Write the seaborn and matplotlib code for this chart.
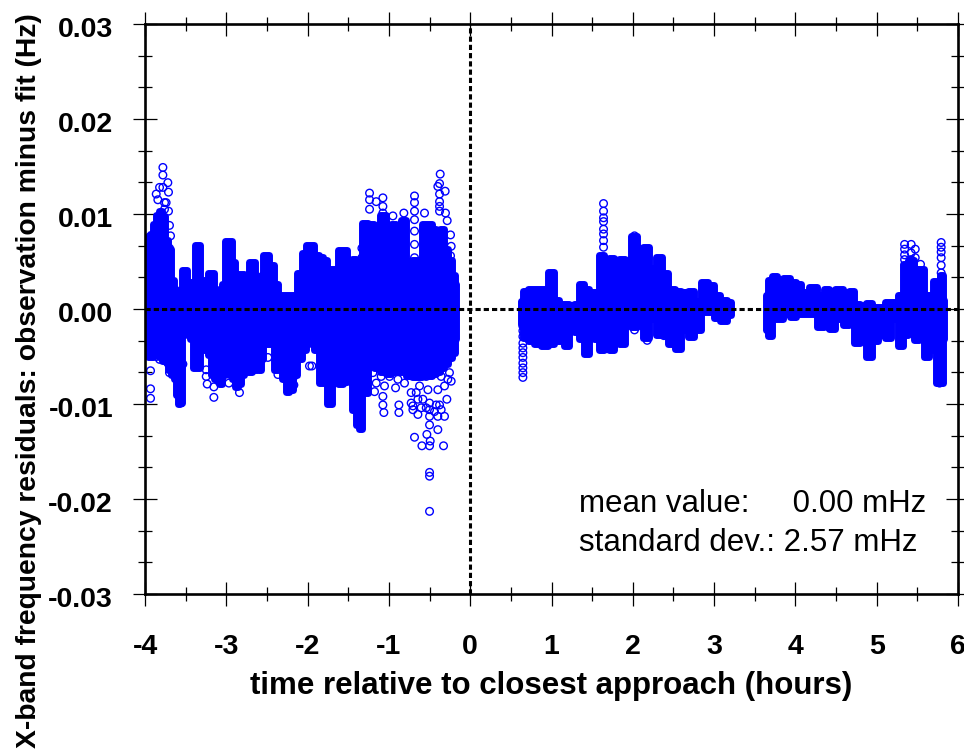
import matplotlib
matplotlib.use("Agg")
import matplotlib.pyplot as plt
from matplotlib.ticker import MultipleLocator, FormatStrFormatter
from matplotlib.transforms import ScaledTranslation
import pandas as pd
import seaborn as sns

# Envelope of the dense point columns (hours, Hz)
t_before = [-3.973, -3.948, -3.924, -3.887, -3.850, -3.813, -3.776, -3.739, -3.702, -3.665, -3.629, -3.604,
            -3.579, -3.555, -3.536, -3.506, -3.469, -3.432, -3.395, -3.370, -3.346, -3.309, -3.247, -3.198,
            -3.173, -3.137, -3.100, -3.075, -3.038, -2.989, -2.952, -2.915, -2.878, -2.841, -2.804, -2.768,
            -2.731, -2.706, -2.669, -2.632, -2.595, -2.558, -2.534, -2.497, -2.448, -2.386, -2.349, -2.288,
            -2.251, -2.202, -2.165, -2.103, -2.042, -2.005, -1.956, -1.894, -1.833, -1.784, -1.734, -1.673,
            -1.587, -1.550, -1.488, -1.427, -1.390, -1.353, -1.304, -1.218, -1.156, -1.070, -1.009, -0.947,
            -0.886, -0.824, -0.750, -0.689, -0.627, -0.566, -0.504, -0.443, -0.394, -0.344, -0.295, -0.246,
            -0.197, -0.175]
up_before = [.0063, .0077, .0079, .0089, .0099, .0103, .0098, .0073, .0063, .0031, .0021, .0017,
             .0005, .0010, .0041, .0041, .0028, .0028, .0026, .0067, .0067, .0031, .0028, .0038,
             .0038, .0010, .0015, .0021, .0026, .0072, .0072, .0050, .0031, .0037, .0037, .0026,
             .0026, .0050, .0050, .0026, .0031, .0036, .0057, .0057, .0046, .0026, .0015, .0015,
             .0015, .0015, .0015, .0038, .0059, .0067, .0067, .0057, .0055, .0052, .0042, .0042,
             .0062, .0062, .0046, .0053, .0044, .0035, .0091, .0089, .0078, .0099, .0073, .0089,
             .0073, .0094, .0047, .0052, .0047, .0089, .0089, .0084, .0078, .0084, .0063, .0052,
             .0036, .0026]
low_before = [-.0043, -.0051, -.0051, -.0048, -.0048, -.0051, -.0055, -.0043, -.0064, -.0069, -.0074, -.0090,
              -.0100, -.0099, -.0016, -.0016, -.0027, -.0032, -.0062, -.0062, -.0062, -.0037, -.0043, -.0048,
              -.0069, -.0074, -.0076, -.0079, -.0069, -.0066, -.0069, -.0074, -.0082, -.0079, -.0069, -.0048,
              -.0066, -.0066, -.0064, -.0043, -.0064, -.0053, -.0032, -.0037, -.0037, -.0064, -.0062, -.0074,
              -.0087, -.0085, -.0069, -.0053, -.0043, -.0037, -.0029, -.0043, -.0078, -.0078, -.0100, -.0053,
              -.0079, -.0077, -.0053, -.0106, -.0122, -.0126, -.0088, -.0058, -.0062, -.0066, -.0068, -.0066,
              -.0066, -.0066, -.0070, -.0072, -.0072, -.0070, -.0070, -.0068, -.0066, -.0062, -.0058, -.0052,
              -.0046, -.0032]

t_after1 = [.627, .664, .750, .824, .923, .996, 1.058, 1.119, 1.181, 1.242, 1.304, 1.365, 1.427, 1.488, 1.550,
            1.611, 1.673, 1.734, 1.796, 1.870, 1.931, 2.017, 2.091, 2.165, 2.239, 2.325, 2.399, 2.472, 2.558,
            2.632, 2.718, 2.792, 2.878, 2.964, 3.026, 3.112, 3.210]
up_after1 = [.0008, .0019, .0021, .0021, .0021, .0039, .0010, .0005, .0005, .0003, .0005, .0026, .0021, .0018, .0018,
             .0057, .0042, .0054, .0047, .0053, .0039, .0077, .0056, .0065, .0043, .0055, .0038, .0021, .0019,
             .0018, .0019, .0008, .0028, .0025, .0015, .0010, .0007]
low_after1 = [-.0016, -.0030, -.0034, -.0037, -.0039, -.0037, -.0034, -.0034, -.0039, -.0022, -.0024, -.0032, -.0047,
              -.0022, -.0032, -.0043, -.0037, -.0043, -.0027, -.0037, -.0011, -.0019, -.0006, -.0031, -.0011, -.0027,
              -.0027, -.0037, -.0042, -.0022, -.0029, -.0022, -.0003, -.0003, -.0009, -.0013, -.0006]

t_after2 = [3.641, 3.690, 3.739, 3.813, 3.887, 3.973, 4.034, 4.108, 4.219, 4.317, 4.391, 4.440, 4.539, 4.637, 4.686,
            4.748, 4.834, 4.908, 4.969, 5.055, 5.142, 5.215, 5.301, 5.338, 5.424, 5.486, 5.547, 5.609, 5.670, 5.707,
            5.756, 5.793, 5.830]
up_after2 = [.0015, .0031, .0035, .0028, .0033, .0028, .0026, .0018, .0023, .0015, .0021, .0015, .0021, .0018, .0019,
             .0005, .0002, .0006, .0002, .0002, .0007, .0007, .0015, .0047, .0052, .0042, .0042, .0015, .0015, .0029,
             .0028, .0036, .0010]
low_after2 = [-.0022, -.0028, -.0011, -.0011, -.0005, -.0008, -.0005, -.0005, -.0005, -.0019, -.0013, -.0021, -.0011,
              -.0017, -.0016, -.0036, -.0011, -.0050, -.0034, -.0027, -.0030, -.0011, -.0039, -.0027, -.0011, -.0033,
              -.0011, -.0051, -.0043, -.0041, -.0078, -.0078, -.0032]

# Separate open circles that stand clear of the columns
ring_t = [-3.780, -3.780, -3.719, -3.711, -3.821, -3.780, -3.862, -3.842, -3.760, -3.711, -3.699, -3.686, -3.699, -3.699,
          -3.932, -3.932, -3.932, -3.534, -3.235, -3.153, -3.153, -2.968, -2.838, -2.488, -2.365, -2.169, -2.169, -1.977,
          -.369, -.377, -.398, -.308, -.377, -.377, -.377, -.377, -.304, -.283, -.242, -.234, -.242,
          -1.238, -1.238, -1.238, -1.156, -1.074, -1.074, -1.074, -.951, -.951, -.972, -.816, -.816,
          -.685, -.685, -.685, -.685, -.685, -.685, -.685, -1.332, -1.332, -.562,
          -1.074, -1.074, -1.062, -.877, -.877, -.918, -1.177, -.685, -.594, -.533, -.500, -.492, -.500, -.398, -.328,
          -.500, -.500, -.500, -.398, -.377, -.398, -.316, -.287, -.439, -.643, -.705, -1.947, -.500,
          -1.197, -1.156, -1.095, -1.054, -.992, -.889, -.808, -.726, -.726, -.664, -.623, -.582, -.541, -.520, -.500,
          -.357, -.316, -.255, -.234, -.275, -.705, -.603, -.541, -.500, -.418, -.357, -.643,
          -3.821, -3.862, -3.719, -3.719, -3.699, -3.247, -3.247, -3.760, -3.740,
          1.640, 1.640, 1.640, 1.640, 1.640, 1.640, 1.640, 1.640, 2.021, 2.021, 2.021,
          .648, .648, .648, .648, .648, .648, .648, .648, .648, .648, .648,
          2.177, 2.021, 1.960, 2.382,
          5.343, 5.343, 5.343, 5.343, 5.424, 5.424, 5.424, 5.474, 5.474, 5.539, 5.539,
          5.793, 5.793, 5.793, 5.793, 5.793, 5.793, 5.793, 5.793, 5.793, 5.773, 5.773, 5.773]
ring_y = [.0149, .0141, .0133, .0123, .0128, .0128, .0121, .0115, .0112, .0103, .0088, .0077, .0064, .0052,
          -.0065, -.0084, -.0094, -.0058, -.0079, -.0082, -.0093, -.0078, -.0088, -.0051, -.0069, -.0071, -.0080, -.0060,
          .0142, .0132, .0129, .0124, .0121, .0113, .0108, .0103, .0101, .0093, .0078, .0066, .0056,
          .0122, .0115, .0105, .0113, .0117, .0108, .0101, .0098, .0085, .0075, .0101, .0089,
          .0119, .0112, .0103, .0094, .0082, .0068, .0054, .0064, .0054, .0101,
          -.0092, -.0101, -.0109, -.0101, -.0109, -.0083, -.0087, -.0135, -.0144, -.0132, -.0144, -.0139, -.0122, -.0127, -.0144,
          -.0172, -.0176, -.0213, -.0085, -.0101, -.0113, -.0113, -.0095, -.0108, -.0111, -.0106, -.0060, -.0113,
          -.0067, -.0078, -.0071, -.0081, -.0071, -.0074, -.0078, -.0088, -.0099, -.0088, -.0081, -.0095, -.0071, -.0085, -.0099,
          -.0071, -.0081, -.0067, -.0076, -.0074, -.0102, -.0104, -.0104, -.0106, -.0101, -.0106, -.0095,
          -.0053, -.0050, -.0046, -.0057, -.0067, -.0064, -.0071, .0105, .0112,
          .0111, .0103, .0096, .0092, .0084, .0079, .0072, .0065, .0077, .0068, .0057,
          -.0018, -.0023, -.0029, -.0036, -.0041, -.0046, -.0051, -.0057, -.0062, -.0067, -.0072,
          -.0033, -.0022, -.0016, -.0028,
          .0068, .0063, .0057, .0052, .0068, .0059, .0052, .0063, .0054, .0047, .0036,
          .0070, .0065, .0060, .0054, .0046, .0038, .0031, .0021, .0012, -.0069, -.0074, -.0078]

notes = ["mean value:     0.00 mHz", "standard dev.: 2.57 mHz"]
xlabel = "time relative to closest approach (hours)"
ylabel = "X-band frequency residuals: observation minus fit (Hz)"

BLUE = "#0000ff"

sns.set_style("ticks")
plt.rcParams["font.family"] = ["Liberation Sans", "DejaVu Sans"]
plt.rcParams["text.color"] = "black"
plt.rcParams["axes.labelcolor"] = "black"
plt.rcParams["xtick.labelcolor"] = "black"
plt.rcParams["ytick.labelcolor"] = "black"

fig = plt.figure(figsize=(9.64, 7.49), dpi=100)
ax = fig.add_axes([145 / 964, 1 - 594 / 749, 813 / 964, 570 / 749])

# Columns of overlapping circles, the thick round edge stands in for the circle radius
for t, up, low in [(t_before, up_before, low_before),
                   (t_after1, up_after1, low_after1),
                   (t_after2, up_after2, low_after2)]:
    ax.fill_between(t, low, up, step="mid", facecolor=BLUE, edgecolor=BLUE, lw=5, joinstyle="round", zorder=2)

rings = pd.DataFrame({"t": ring_t, "y": ring_y})
sns.scatterplot(data=rings, x="t", y="y", ax=ax, marker="o", s=30, facecolor="none",
                edgecolor=BLUE, linewidth=1.0, zorder=3, clip_on=False)

ax.axhline(0, color="black", lw=2.2, ls=(0, (1.7, 1.0)), zorder=4)
ax.axvline(0, color="black", lw=2.2, ls=(0, (1.7, 1.0)), zorder=4)

ax.set_xlim(-4, 6)
ax.set_ylim(-0.03, 0.03)
ax.xaxis.set_major_locator(MultipleLocator(1))
ax.xaxis.set_minor_locator(MultipleLocator(0.5))
ax.yaxis.set_major_locator(MultipleLocator(0.01))
ax.yaxis.set_minor_locator(MultipleLocator(0.01 / 3))
ax.xaxis.set_major_formatter(FormatStrFormatter("%d"))
ax.yaxis.set_major_formatter(FormatStrFormatter("%.2f"))

ax.tick_params(which="major", direction="inout", length=17, width=0.9, color="black",
               top=True, right=True, labelsize=20.5)
ax.tick_params(which="minor", direction="inout", length=10, width=0.9, color="black",
               top=True, right=True)
ax.tick_params(axis="x", which="major", pad=20.5)
ax.tick_params(axis="y", which="major", pad=14.5)
shift = ScaledTranslation(0, -2 / 72, fig.dpi_scale_trans)
for lab in ax.get_xticklabels() + ax.get_yticklabels():
    lab.set_fontweight("bold")
for lab in ax.get_yticklabels():
    lab.set_transform(lab.get_transform() + shift)

for side in ax.spines:
    ax.spines[side].set_linewidth(1.9)
    ax.spines[side].set_color("black")
    ax.spines[side].set_zorder(5)

ax.set_xlabel(xlabel, fontsize=22.5, fontweight="bold", va="center")
ax.xaxis.set_label_coords(0.5, -0.162)
ax.set_ylabel(ylabel, fontsize=20.3, fontweight="bold", va="center")
ax.yaxis.set_label_coords(-0.143, 0.375)

ax.text(1.34, -0.0205, notes[0], fontsize=22.5, va="center", ha="left")
ax.text(1.34, -0.0246, notes[1], fontsize=22.5, va="center", ha="left")

fig.savefig("out.png", dpi=100)
